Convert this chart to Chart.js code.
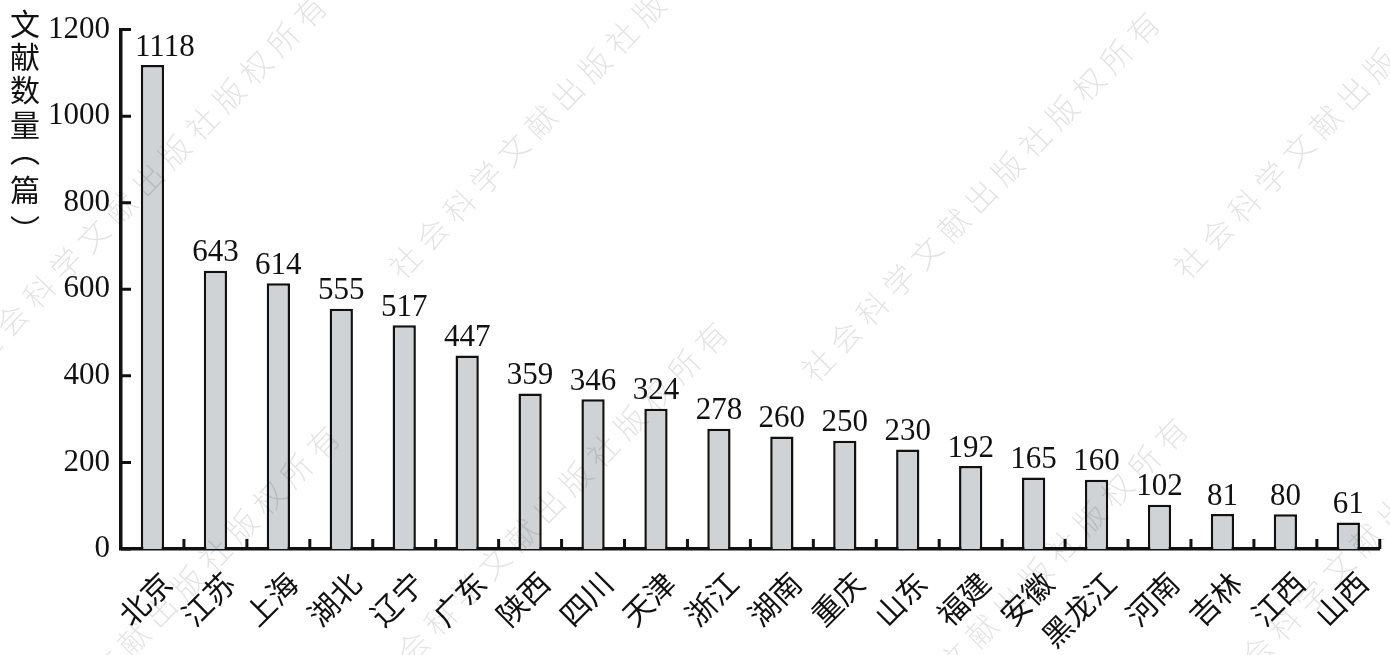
<!DOCTYPE html>
<html>
<head>
<meta charset="utf-8">
<script src="https://cdn.jsdelivr.net/npm/chart.js@4"></script>
<style>
    html, body { margin: 0; padding: 0; background: #fff; }
    #wrap { width: 1390px; height: 655px; position: relative; }
</style>
</head>
<body>
<div id="wrap"><canvas id="provinceChart"></canvas></div>
<script>
// data
const provinces = ['北京', '江苏', '上海', '湖北', '辽宁', '广东', '陕西', '四川', '天津', '浙江',
    '湖南', '重庆', '山东', '福建', '安徽', '黑龙江', '河南', '吉林', '江西', '山西'];
const docCounts = [1118, 643, 614, 555, 517, 447, 359, 346, 324, 278,
    260, 250, 230, 192, 165, 160, 102, 81, 80, 61];
const yMin = 0;
const yMax = 1200;
const yStep = 200;
const yTitle = ['文', '献', '数', '量', '︵', '篇', '︶'];
const watermarkText = '社会科学文献出版社版权所有';

const serif = "'Liberation Serif', 'DejaVu Serif', serif";
const cjk = "'Noto Sans CJK SC', sans-serif";

// inner tick marks on both axes
const tickMarks = {
    id: 'tickMarks',
    afterDraw(chart) {
        const ctx = chart.ctx;
        const xs = chart.scales.x, ys = chart.scales.y;
        ctx.save();
        ctx.strokeStyle = '#111';
        ctx.lineWidth = 3;
        ctx.beginPath();
        ys.ticks.forEach(t => {
            const py = ys.getPixelForValue(t.value);
            ctx.moveTo(xs.left, py);
            ctx.lineTo(xs.left + 10, py);
        });
        const n = provinces.length;
        for (let i = 1; i <= n; i++) {
            const px = xs.left + i * (xs.width / n);
            ctx.moveTo(px, ys.bottom);
            ctx.lineTo(px, ys.bottom - 10);
        }
        ctx.stroke();
        ctx.restore();
    }
};

// numbers above the bars
const valueLabels = {
    id: 'valueLabels',
    afterDatasetsDraw(chart) {
        const ctx = chart.ctx;
        const meta = chart.getDatasetMeta(0);
        ctx.save();
        ctx.font = '31px ' + serif;
        ctx.fillStyle = '#111';
        ctx.textAlign = 'center';
        ctx.textBaseline = 'bottom';
        meta.data.forEach((bar, i) => {
            const txt = String(docCounts[i]);
            const w = ctx.measureText(txt).width;
            // keep the first label clear of the axis
            const x = Math.max(bar.x, chart.chartArea.left + 14 + w / 2);
            ctx.fillText(txt, x, bar.y - 2);
        });
        ctx.restore();
    }
};

// vertical stacked axis title (vertical-form brackets)
const yTitleStack = {
    id: 'yTitleStack',
    afterDraw(chart) {
        const ctx = chart.ctx;
        const centers = [24, 57, 90, 125, 151, 190, 230];
        ctx.save();
        ctx.fillStyle = '#111';
        ctx.textAlign = 'center';
        ctx.textBaseline = 'middle';
        ctx.font = '30px ' + cjk;
        yTitle.forEach((c, i) => {
            ctx.fillText(c, 25, centers[i]);
        });
        ctx.restore();
    }
};

// faint diagonal watermark
const watermark = {
    id: 'watermark',
    afterDraw(chart) {
        const ctx = chart.ctx;
        const starts = [[-15, 348], [405, 262], [818, 365], [1190, 262],
            [-2, 779], [386, 675], [846, 771], [1230, 680]];
        const chars = Array.from(watermarkText);
        const ang = -46 * Math.PI / 180;
        const step = 39;
        ctx.save();
        ctx.font = '300 31px ' + cjk;
        ctx.fillStyle = 'rgba(0, 0, 0, 0.11)';
        ctx.textAlign = 'center';
        ctx.textBaseline = 'middle';
        starts.forEach(([sx, sy]) => {
            chars.forEach((c, i) => {
                ctx.save();
                ctx.translate(sx + Math.cos(ang) * step * i, sy + Math.sin(ang) * step * i);
                ctx.rotate(ang);
                ctx.fillText(c, 0, 0);
                ctx.restore();
            });
        });
        ctx.restore();
    }
};

new Chart(document.getElementById('provinceChart'), {
    type: 'bar',
    data: {
        labels: provinces,
        datasets: [{
            data: docCounts,
            backgroundColor: '#d0d3d6',
            borderColor: '#111',
            borderWidth: 2.5,
            borderSkipped: 'bottom',
            barPercentage: 0.37,
            categoryPercentage: 1
        }]
    },
    options: {
        responsive: true,
        maintainAspectRatio: false,
        animation: false,
        events: [],
        layout: {
            padding: { top: 25, right: 9, left: 0, bottom: 0 }
        },
        plugins: {
            legend: { display: false },
            tooltip: { enabled: false }
        },
        scales: {
            x: {
                grid: { display: false, drawTicks: false },
                border: { display: true, color: '#111', width: 3.5 },
                ticks: {
                    color: '#111',
                    font: { size: 30, family: cjk },
                    minRotation: 45,
                    maxRotation: 45,
                    padding: 16,
                    labelOffset: 14,
                    autoSkip: false
                },
                afterFit(scale) { scale.height = 106; }
            },
            y: {
                min: yMin,
                max: yMax,
                grid: { display: false, drawTicks: false },
                border: { display: true, color: '#111', width: 3.5 },
                ticks: {
                    stepSize: yStep,
                    color: '#111',
                    font: { size: 31, family: serif },
                    padding: 11,
                    callback: value => String(value)
                },
                afterFit(scale) { scale.width = 121; }
            }
        }
    },
    plugins: [tickMarks, valueLabels, yTitleStack, watermark]
});
</script>
</body>
</html>
